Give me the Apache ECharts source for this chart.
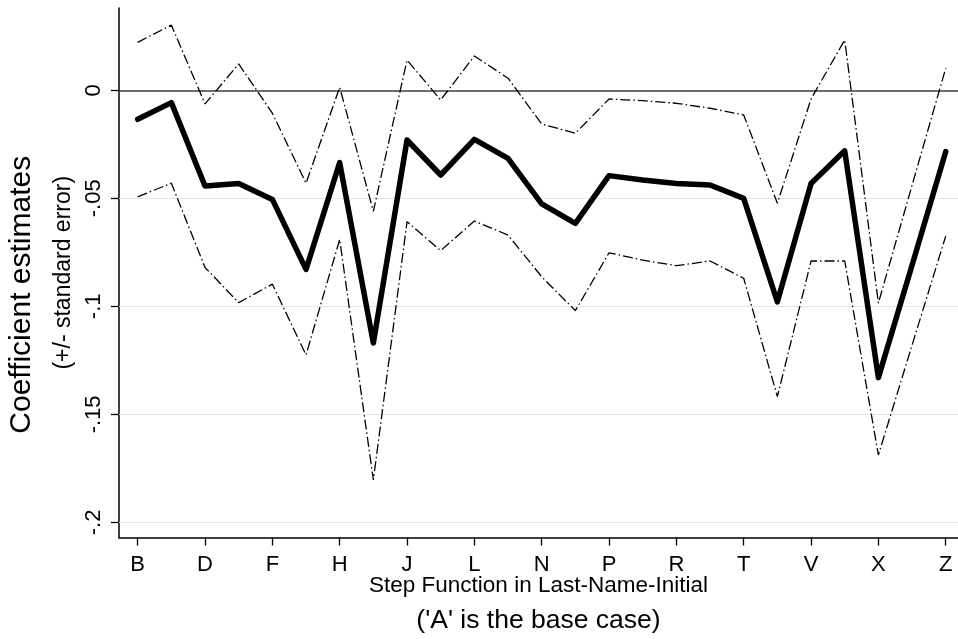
<!DOCTYPE html>
<html>
<head>
<meta charset="utf-8">
<script src="https://cdn.jsdelivr.net/npm/echarts@6/dist/echarts.min.js"></script>
<style>html,body{margin:0;padding:0;background:#fff}#c{width:958px;height:639px}</style>
</head>
<body>
<div id="c"></div>
<script>
var letters = ['B','C','D','E','F','G','H','I','J','K','L','M','N','O','P','Q','R','S','T','U','V','W','X','Y','Z'];
var coef  = [-0.0134,-0.0057,-0.0443,-0.0431,-0.0505,-0.0829,-0.0335,-0.1170,-0.0230,-0.0392,-0.0227,-0.0315,-0.0526,-0.0616,-0.0395,-0.0415,-0.0431,-0.0438,-0.0500,-0.0979,-0.0431,-0.0280,-0.1330,-0.0810,-0.0284];
var upper = [0.0222,0.0302,-0.0063,0.0122,-0.0106,-0.0430,0.0014,-0.0560,0.0140,-0.0045,0.0159,0.0056,-0.0156,-0.0199,-0.0040,-0.0048,-0.0060,-0.0083,-0.0114,-0.0523,-0.0040,0.0233,-0.0985,-0.0440,0.0102];
var lower = [-0.0493,-0.0430,-0.0820,-0.0983,-0.0897,-0.1225,-0.0690,-0.1804,-0.0608,-0.0742,-0.0605,-0.0670,-0.0863,-0.1020,-0.0752,-0.0786,-0.0812,-0.0790,-0.0870,-0.1418,-0.0790,-0.0790,-0.1688,-0.1180,-0.0675];
var xTickIdx = [0,2,4,6,8,10,12,14,16,18,20,22,24];
var yTicks = [-0.2,-0.15,-0.1,-0.05,0];
var yTickLabels = ['-.2','-.15','-.1','-.05','0'];

var FF = '"Liberation Sans", Arial, Helvetica, sans-serif';
function pts(arr){ return arr.map(function(v,i){ return [i, v]; }); }
var dashDot = [10, 3, 1.5, 3];

var chart = echarts.init(document.getElementById('c'));
chart.setOption({
  animation: false,
  backgroundColor: '#fff',
  grid: {left: 119, right: 0, top: 8, bottom: 101.5, containLabel: false, outerBoundsMode: 'none'},
  xAxis: {
    type: 'value', min: -0.555, max: 24.365,
    axisLine: {show: true, onZero: false, lineStyle: {color: '#000', width: 1.5}},
    axisTick: {show: true, length: 8, customValues: xTickIdx, lineStyle: {color: '#000', width: 1.3}},
    axisLabel: {customValues: xTickIdx, formatter: function(v){ return letters[Math.round(v)]; },
      fontSize: 22, color: '#000', fontFamily: FF, margin: 16},
    splitLine: {show: false},
    name: '{a|Step Function in Last-Name-Initial}\n{b|(\'A\' is the base case)}',
    nameLocation: 'middle', nameGap: 31, nameMoveOverlap: false,
    nameTextStyle: {color: '#000', fontFamily: FF,
      rich: {a: {fontSize: 22.5, lineHeight: 34, fontFamily: FF, color: '#000'},
             b: {fontSize: 26.5, lineHeight: 36, fontFamily: FF, color: '#000'}}}
  },
  yAxis: {
    type: 'value', min: -0.207, max: 0.0381,
    axisLine: {show: true, onZero: false, lineStyle: {color: '#000', width: 1.5}},
    axisTick: {show: true, length: 8, customValues: yTicks, lineStyle: {color: '#000', width: 1.3}},
    axisLabel: {customValues: yTicks, rotate: 90,
      formatter: function(v){ for (var i=0;i<yTicks.length;i++){ if (Math.abs(yTicks[i]-v)<1e-9) return yTickLabels[i]; } return ''; },
      fontSize: 22, color: '#000', fontFamily: FF, margin: 14},
    splitLine: {show: false},
    name: '{a|Coefficient estimates}\n{b|(+/- standard error)}',
    nameLocation: 'middle', nameRotate: 90, nameGap: 31, nameMoveOverlap: false,
    nameTextStyle: {color: '#000', fontFamily: FF,
      rich: {a: {fontSize: 30, lineHeight: 36, padding: [0, 44, 0, 0], fontFamily: FF, color: '#000'},
             b: {fontSize: 23, lineHeight: 48, fontFamily: FF, color: '#000'}}}
  },
  series: [
    {
      type: 'line', data: [], z: 1, silent: true,
      markLine: {
        silent: true, z: 1, symbol: ['none','none'], label: {show: false},
        data: yTicks.map(function(v){
          return {yAxis: v, lineStyle: {type: 'solid', color: v === 0 ? '#3c3c3c' : '#e6e6e6', width: v === 0 ? 1.6 : 1.2}};
        })
      }
    },
    {type: 'line', data: pts(upper), symbol: 'none', z: 3,
      lineStyle: {color: '#000', width: 1.3, type: dashDot}},
    {type: 'line', data: pts(lower), symbol: 'none', z: 3,
      lineStyle: {color: '#000', width: 1.3, type: dashDot}},
    {type: 'line', data: pts(coef), symbol: 'none', z: 4,
      lineStyle: {color: '#000', width: 5.5, join: 'round', cap: 'round'}}
  ]
});
</script>
</body>
</html>
